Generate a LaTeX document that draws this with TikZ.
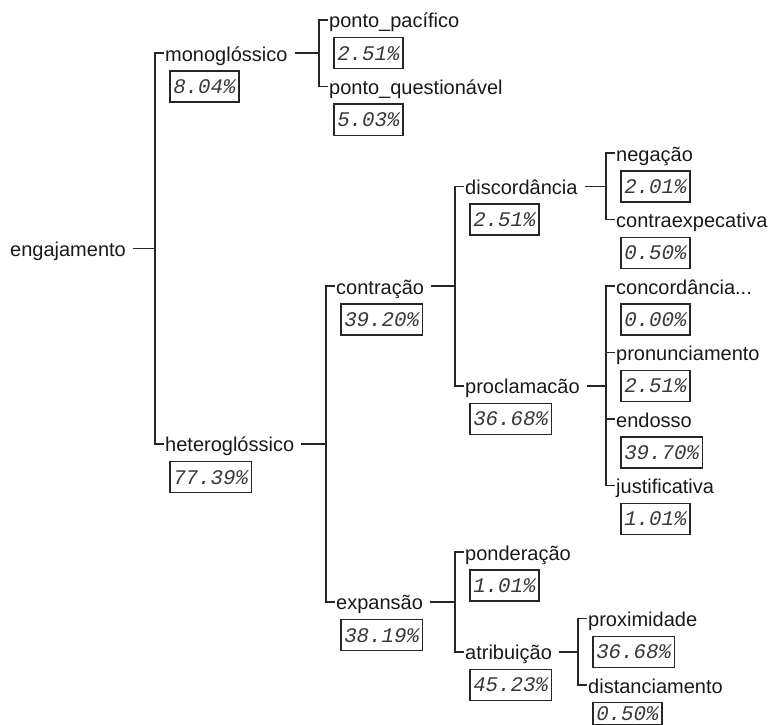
\documentclass[tikz,border=0pt]{standalone}
\usepackage{fontspec}
\setmainfont{Liberation Sans}
\newfontfamily\pctfont{Liberation Mono}
\begin{document}
\begin{tikzpicture}[x=1pt,y=-1pt,
  lbl/.style={inner sep=0pt, text height=16pt, text depth=0pt, anchor=west,
    font=\fontsize{20}{24}\selectfont, text=black!90},
  pct/.style={draw=black!85, line width=1.5pt, anchor=north west, inner xsep=3.5pt,
    inner ysep=0pt, minimum height=31pt, font=\pctfont\itshape\fontsize{20.8}{24}\selectfont,
    text=black!78},
  conn/.style={draw=black!85, line width=1.5pt}]
\useasboundingbox (0,0) rectangle (769,725);

% labels
\node[lbl] (eng)  at (10,248.6)  {engajamento};
\node[lbl] (mono) at (165,53.25) {monoglóssico};
\node[lbl] (pp)   at (329,20)    {ponto\_pacífico};
\node[lbl] (pq)   at (329,86.5)  {ponto\_questionável};
\node[lbl] (het)  at (165,443.9) {heteroglóssico};
\node[lbl] (con)  at (336,286)   {contração};
\node[lbl] (dis)  at (465,186.25){discordância};
\node[lbl] (neg)  at (616,153)   {negação};
\node[lbl] (cex)  at (616,219.5) {contraexpecativa};
\node[lbl] (pro)  at (465,385.75){proclamacão};
\node[lbl] (cc)   at (616,286)   {concordância...};
\node[lbl] (pron) at (616,352.5) {pronunciamento};
\node[lbl] (endo) at (616,419)   {endosso};
\node[lbl] (jus)  at (616,485.5) {justificativa};
\node[lbl] (expa) at (336,601.9) {expansão};
\node[lbl] (pond) at (465,552)   {ponderação};
\node[lbl] (atr)  at (465,651.75){atribuição};
\node[lbl] (prox) at (588,618.5) {proximidade};
\node[lbl] (dist) at (588,685)   {distanciamento};

% percentage boxes
\node[pct] (monop) at (169,70.25)  {8.04\%};
\node[pct] (ppp)   at (333,37)     {2.51\%};
\node[pct] (pqp)   at (333,103.5)  {5.03\%};
\node[pct] (hetp)  at (169,460.9)  {77.39\%};
\node[pct] (conp)  at (340,303)    {39.20\%};
\node[pct] (disp)  at (469,203.25) {2.51\%};
\node[pct] (negp)  at (620,170)    {2.01\%};
\node[pct] (cexp)  at (620,236.5)  {0.50\%};
\node[pct] (prop)  at (469,402.75) {36.68\%};
\node[pct] (ccp)   at (620,303)    {0.00\%};
\node[pct] (pronp) at (620,369.5)  {2.51\%};
\node[pct] (endop) at (620,436)    {39.70\%};
\node[pct] (jusp)  at (620,502.5)  {1.01\%};
\node[pct] (expap) at (340,618.9)  {38.19\%};
\node[pct] (pondp) at (469,569)    {1.01\%};
\node[pct] (atrp)  at (469,668.75) {45.23\%};
\node[pct] (proxp) at (592,635.5)  {36.68\%};
\node[pct, minimum height=22pt] (distp) at (592,701.5) {0.50\%};

% connectors: parent dashes
\draw[conn] ([xshift=7pt]eng.east)  -- ([xshift=-10pt]eng.east -| mono.west);
\draw[conn] ([xshift=7pt]mono.east) -- ([xshift=-10pt]mono.east -| pp.west);
\draw[conn] ([xshift=7pt]het.east)  -- ([xshift=-10pt]het.east -| con.west);
\draw[conn] ([xshift=7pt]con.east)  -- ([xshift=-10pt]con.east -| dis.west);
\draw[conn] ([xshift=7pt]dis.east)  -- ([xshift=-10pt]dis.east -| neg.west);
\draw[conn] ([xshift=7pt]pro.east)  -- ([xshift=-10pt]pro.east -| cc.west);
\draw[conn] ([xshift=7pt]expa.east) -- ([xshift=-10pt]expa.east -| pond.west);
\draw[conn] ([xshift=7pt]atr.east)  -- ([xshift=-10pt]atr.east -| prox.west);

% connectors: brackets
\draw[conn] ([xshift=-1.5pt]mono.west) -- ++(-8.5pt,0) |- ([xshift=-1.5pt]het.west);
\draw[conn] ([xshift=-1.5pt]pp.west)   -- ++(-8.5pt,0) |- ([xshift=-1.5pt]pq.west);
\draw[conn] ([xshift=-1.5pt]con.west)  -- ++(-8.5pt,0) |- ([xshift=-1.5pt]expa.west);
\draw[conn] ([xshift=-1.5pt]dis.west)  -- ++(-8.5pt,0) |- ([xshift=-1.5pt]pro.west);
\draw[conn] ([xshift=-1.5pt]neg.west)  -- ++(-8.5pt,0) |- ([xshift=-1.5pt]cex.west);
\draw[conn] ([xshift=-1.5pt]cc.west)   -- ++(-8.5pt,0) |- ([xshift=-1.5pt]jus.west);
\draw[conn] ([xshift=-1.5pt]pron.west) -- ++(-8.5pt,0);
\draw[conn] ([xshift=-1.5pt]endo.west) -- ++(-8.5pt,0);
\draw[conn] ([xshift=-1.5pt]pond.west) -- ++(-8.5pt,0) |- ([xshift=-1.5pt]atr.west);
\draw[conn] ([xshift=-1.5pt]prox.west) -- ++(-8.5pt,0) |- ([xshift=-1.5pt]dist.west);
\end{tikzpicture}
\end{document}
